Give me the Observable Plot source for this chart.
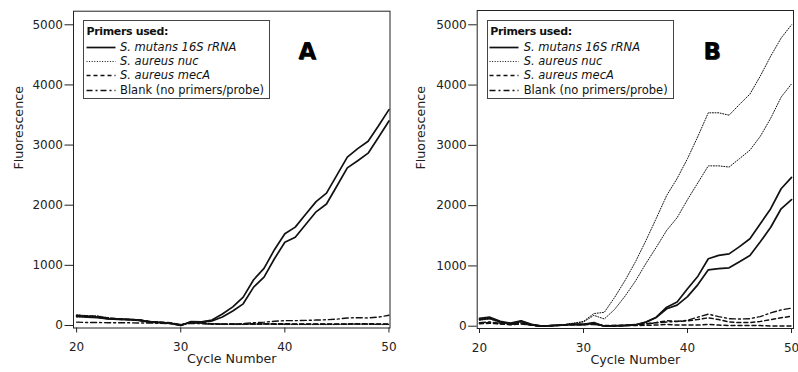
<!DOCTYPE html>
<html>
<head>
<meta charset="utf-8">
<script src="https://cdn.jsdelivr.net/npm/d3@7"></script>
<script src="https://cdn.jsdelivr.net/npm/@observablehq/plot@0.6"></script>
<style>
  html, body { margin: 0; padding: 0; background: #fff; }
  #wrap { position: relative; width: 798px; height: 372px; overflow: hidden; display: flex; font-family: "DejaVu Sans", sans-serif; }
  .panel { position: relative; height: 372px; flex: none; }
  .legend { position: absolute; top: 20px; height: 79px; box-sizing: border-box; border: 1px solid #444; background: #fff; font-size: 11.5px; color: #111; }
  .legend .title { position: absolute; left: 2.5px; top: 4px; font-weight: bold; font-size: 11px; letter-spacing: -0.35px; line-height: 14px; }
  .legend .row { position: absolute; left: 1.5px; height: 14px; line-height: 14px; white-space: nowrap; }
  .legend .row svg { position: absolute; left: 0; top: 0; }
  .legend .row span { position: absolute; left: 34.5px; top: 0; }
  .tag { position: absolute; top: 38px; font: 900 23px "DejaVu Sans", sans-serif; color: #000; text-shadow: 0.8px 0.8px 0 #333; }
</style>
</head>
<body>
<div id="wrap"></div>
<script>
// ---------- data ----------
const cycles = [20,21,22,23,24,25,26,27,28,29,30,31,32,33,34,35,36,37,38,39,40,41,42,43,44,45,46,47,48,49,50];

// Panel A
const aMutans1 = [160,150,140,115,105,100,90,60,50,40,0,65,60,90,190,310,471,760,950,1260,1524,1635,1850,2060,2200,2500,2800,2940,3064,3320,3590];
const aMutans2 = [150,140,130,110,100,95,85,55,45,35,0,60,55,75,140,240,360,637,803,1110,1385,1468,1680,1890,2020,2320,2620,2740,2865,3130,3400];
const aNuc1 = [175,165,160,130,110,105,95,70,55,45,10,50,40,30,25,20,20,25,30,25,25,20,20,20,20,20,25,25,25,20,20];
const aNuc2 = [140,150,145,120,105,100,90,65,50,40,5,45,35,25,20,15,15,20,20,20,15,15,15,15,15,15,20,20,20,15,15];
const aMec1 = [170,160,150,125,110,100,95,65,55,45,10,55,45,30,25,25,25,30,30,30,30,25,25,25,25,25,25,30,30,25,25];
const aMec2 = [155,150,140,115,105,95,85,60,50,40,5,50,40,25,20,20,20,20,25,20,20,20,20,20,20,20,20,25,25,20,20];
const aBlank = [55,50,50,45,45,45,40,40,35,30,15,35,30,20,20,25,30,45,55,70,80,80,85,90,95,105,125,130,125,140,170];

// Panel B
const bMutans1 = [130,150,80,50,90,30,0,10,20,35,30,60,0,10,15,25,70,150,315,400,620,830,1120,1175,1200,1320,1450,1700,1950,2280,2470];
const bMutans2 = [110,130,70,40,80,25,0,10,20,30,25,50,0,5,10,20,65,145,290,350,490,690,936,955,968,1070,1173,1400,1642,1948,2100];
const bNuc1 = [110,130,70,45,75,30,0,15,25,50,80,210,230,480,760,1070,1420,1790,2170,2450,2780,3150,3540,3540,3500,3680,3850,4150,4480,4780,5000];
const bNuc2 = [100,120,60,40,70,25,0,10,20,45,70,180,120,280,500,750,1040,1310,1590,1800,2100,2380,2660,2660,2640,2780,2920,3150,3450,3800,4020];
const bMec1 = [50,60,40,30,50,20,0,10,20,30,30,40,10,10,15,20,40,60,90,80,90,110,140,110,70,60,60,80,110,140,165];
const bMec2 = [40,50,35,25,40,15,0,10,15,25,25,30,5,5,10,10,15,20,30,20,20,20,30,20,10,10,10,10,5,5,5];
const bBlank = [60,70,50,30,40,20,0,10,20,30,30,30,10,10,15,25,40,55,70,80,100,150,200,160,125,120,125,160,220,270,300];

// legend / labels
const legendTitle = "Primers used:";
const legendLabels = ["S. mutans 16S rRNA", "S. aureus nuc", "S. aureus mecA", "Blank (no primers/probe)"];
const legendItalic = [true, true, true, false];
const kinds = ["mutans", "nuc", "mecA", "blank"];
const yTicks = [0, 1000, 2000, 3000, 4000, 5000];
const xTicks = [20, 30, 40, 50];
const xLabel = "Cycle Number";
const yLabel = "Fluorescence";
const panelTags = ["A", "B"];

// ---------- styles ----------
const styleOf = {
  mutans: {dash: null, width: 1.7},
  nuc: {dash: "1,1.6", width: 1},
  mecA: {dash: "4,3", width: 1.5},
  blank: {dash: "6,3,2,3", width: 1.4}
};

function toRows(traces) {
  const out = [];
  for (const t of traces) {
    t.values.forEach((v, i) => out.push({cycle: cycles[i], value: v, kind: t.kind, trace: t.name}));
  }
  return out;
}

const dataA = toRows([
  {kind: "nuc", name: "n1", values: aNuc1}, {kind: "nuc", name: "n2", values: aNuc2},
  {kind: "mecA", name: "m1", values: aMec1}, {kind: "mecA", name: "m2", values: aMec2},
  {kind: "blank", name: "b1", values: aBlank},
  {kind: "mutans", name: "s1", values: aMutans1}, {kind: "mutans", name: "s2", values: aMutans2}
]);
const dataB = toRows([
  {kind: "nuc", name: "n1", values: bNuc1}, {kind: "nuc", name: "n2", values: bNuc2},
  {kind: "mecA", name: "m1", values: bMec1}, {kind: "mecA", name: "m2", values: bMec2},
  {kind: "blank", name: "b1", values: bBlank},
  {kind: "mutans", name: "s1", values: bMutans1}, {kind: "mutans", name: "s2", values: bMutans2}
]);

function makePanel(data, cfg) {
  const lineMarks = ["nuc", "mecA", "blank", "mutans"].map(k => Plot.line(data.filter(d => d.kind === k), {
    x: "cycle", y: "value", z: "trace", stroke: "#111",
    strokeWidth: styleOf[k].width,
    strokeDasharray: styleOf[k].dash || undefined,
    strokeLinejoin: "round"
  }));
  return Plot.plot({
    width: cfg.width, height: 372,
    marginLeft: cfg.ml, marginRight: cfg.mr, marginTop: cfg.mt, marginBottom: cfg.mb,
    style: {fontFamily: '"DejaVu Sans", sans-serif', fontSize: "12px", background: "#fff", color: "#222"},
    x: {domain: cfg.xd},
    y: {domain: cfg.yd},
    marks: [
      Plot.axisY({ticks: yTicks, tickSize: 8.5, tickPadding: 2, tickFormat: d3.format("d"), label: null, fontSize: 12}),
      Plot.axisX({ticks: xTicks, tickSize: 5, tickPadding: 9.5, tickFormat: d3.format("d"), label: null, fontSize: 12}),
      ...lineMarks,
      Plot.frame({stroke: "#222", strokeWidth: 1}),
      Plot.text([xLabel], {frameAnchor: "bottom", text: d => d, dy: 35, fontSize: 12.7, fill: "#222"}),
      Plot.text([yLabel], {frameAnchor: "left", text: d => d, dx: cfg.ylx, rotate: -90, fontSize: 12.7, fill: "#222"})
    ]
  });
}

function makeLegend(left) {
  const box = document.createElement("div");
  box.className = "legend";
  box.style.left = left + "px";
  box.style.width = "187px";
  const t = document.createElement("div");
  t.className = "title";
  t.textContent = legendTitle;
  box.appendChild(t);
  legendLabels.forEach((lab, i) => {
    const row = document.createElement("div");
    row.className = "row";
    row.style.top = (18.5 + i * 14.4) + "px";
    const st = styleOf[kinds[i]];
    row.innerHTML = `<svg width="32" height="14"><line x1="0.5" x2="29.5" y1="7.5" y2="7.5" stroke="#111" stroke-width="${st.width}" ${st.dash ? `stroke-dasharray="${st.dash}"` : ""}/></svg>`;
    const sp = document.createElement("span");
    sp.textContent = lab;
    if (legendItalic[i]) sp.style.fontStyle = "italic";
    row.appendChild(sp);
    box.appendChild(row);
  });
  return box;
}

const wrap = document.getElementById("wrap");
const cfgs = [
  {width: 400, ml: 73, mr: 10.5, mt: 10.7, mb: 44.5, xd: [19.7, 50.1], yd: [-42, 5226], ylx: -55, legendLeft: 83, tagLeft: 298.3},
  {width: 398, ml: 76.7, mr: 5, mt: 10, mb: 44, xd: [19.78, 50.19], yd: [-38, 5237], ylx: -56.7, legendLeft: 86.7, tagLeft: 303.3}
];
[dataA, dataB].forEach((data, i) => {
  const cfg = cfgs[i];
  const p = document.createElement("div");
  p.className = "panel";
  p.style.width = cfg.width + "px";
  p.appendChild(makePanel(data, cfg));
  p.appendChild(makeLegend(cfg.legendLeft));
  const tag = document.createElement("div");
  tag.className = "tag";
  tag.style.left = cfg.tagLeft + "px";
  tag.textContent = panelTags[i];
  p.appendChild(tag);
  wrap.appendChild(p);
});
</script>
</body>
</html>
